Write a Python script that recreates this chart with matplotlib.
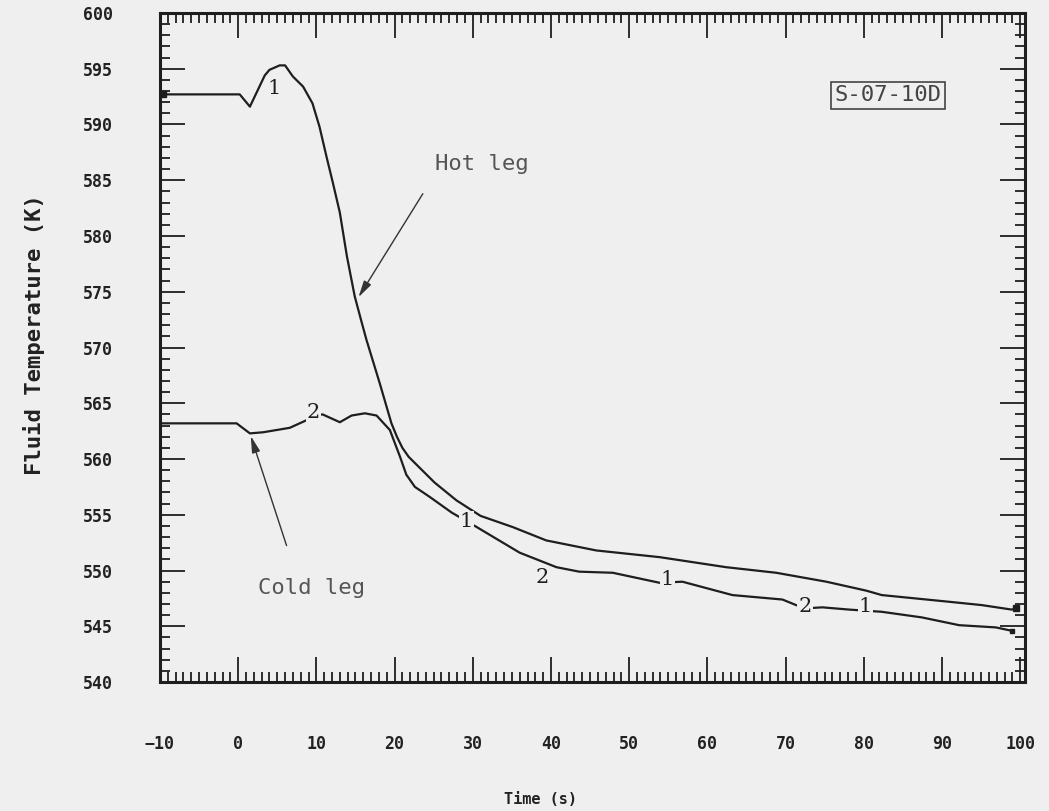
import numpy as np
import matplotlib.pyplot as plt
from matplotlib.ticker import MultipleLocator

plt.rcParams['font.family'] = ['DejaVu Sans Mono']

# hot leg (curve 1)
hot_t = [-10, 0.2, 1.5, 3.4, 4.0, 5.3, 6.0, 7.0, 8.3, 9.5, 10.4, 11.3, 12.1, 13.0,
         13.9, 14.9, 15.7, 16.4, 18.1, 19.6, 20.3, 21.0, 21.8, 22.8, 25.1, 27.9,
         31.0, 35.1, 39.4, 45.8, 53.9, 62.4, 68.8, 75.2, 80.3, 82.3, 90.9, 95.1,
         98.9, 99.5]
hot_T = [592.7, 592.7, 591.6, 594.4, 594.9, 595.3, 595.3, 594.3, 593.4, 591.9,
         589.8, 587.1, 584.8, 582.1, 578.2, 574.6, 572.5, 570.7, 566.8, 563.2,
         562.0, 561.0, 560.2, 559.5, 557.9, 556.3, 554.9, 553.9, 552.7, 551.8,
         551.2, 550.3, 549.8, 549.0, 548.2, 547.8, 547.2, 546.9, 546.5, 546.6]

# cold leg (curve 2)
cold_t = [-10, -0.2, 1.5, 3.2, 6.6, 8.8, 9.5, 10.8, 13.0, 14.5, 16.2, 17.7, 19.4,
          20.7, 21.5, 22.6, 24.5, 27.3, 30.5, 36.0, 40.7, 43.6, 47.9, 53.9, 56.8,
          63.2, 69.6, 72.4, 74.7, 78.1, 82.3, 87.4, 92.2, 96.9, 98.9]
cold_T = [563.2, 563.2, 562.3, 562.4, 562.8, 563.5, 563.9, 564.0, 563.3, 563.9,
          564.1, 563.9, 562.6, 560.2, 558.6, 557.5, 556.6, 555.2, 553.9, 551.6,
          550.3, 549.9, 549.8, 548.9, 549.0, 547.8, 547.4, 546.6, 546.7, 546.5,
          546.3, 545.8, 545.1, 544.9, 544.6]

# curve number labels (text, t, T)
curve_labels = [("1", 4.6, 593.2), ("2", 9.6, 564.2), ("1", 29.2, 554.4),
                ("2", 38.9, 549.4), ("1", 54.9, 549.2), ("2", 72.5, 546.8),
                ("1", 80.2, 546.8)]

bg = '#efefef'
ink = '#1e1e1e'

fig = plt.figure(figsize=(10.49, 8.11), dpi=100, facecolor=bg)
ax = fig.add_axes([0.1525, 0.159, 0.8245, 0.825], facecolor=bg)

ax.plot(hot_t, hot_T, color=ink, lw=1.6)
ax.plot(cold_t, cold_T, color=ink, lw=1.6)
ax.plot(hot_t[-1], hot_T[-1], 's', color=ink, ms=4)
ax.plot(cold_t[-1], cold_T[-1], 's', color=ink, ms=3)
ax.plot(hot_t[0] + 0.4, hot_T[0], 's', color=ink, ms=4)

for s, t, T in curve_labels:
    ax.text(t, T, s, fontsize=15, color=ink, ha='center', va='center',
            family='DejaVu Serif',
            bbox=dict(boxstyle='square,pad=0.05', fc=bg, ec='none'))

# annotations
ax.annotate("", xy=(15.2, 574.3), xytext=(23.8, 584.0),
            arrowprops=dict(arrowstyle='-|>,head_length=1.0,head_width=0.25',
                            color='#333333', lw=1.0))
ax.text(31.2, 586.5, "Hot leg", fontsize=16, color='#555555',
        ha='center', va='center')
ax.annotate("", xy=(1.5, 562.3), xytext=(6.3, 552.0),
            arrowprops=dict(arrowstyle='-|>,head_length=1.0,head_width=0.25',
                            color='#333333', lw=1.0))
ax.text(9.4, 548.4, "Cold leg", fontsize=16, color='#555555',
        ha='center', va='center')

ax.text(83.1, 592.6, "S-07-10D", fontsize=16, color='#444444',
        ha='center', va='center',
        bbox=dict(boxstyle='square,pad=0.15', fc=bg, ec='#444444', lw=1.2))

ax.set_xlim(-10, 100.6)
ax.set_ylim(540, 600)
ax.xaxis.set_major_locator(MultipleLocator(10))
ax.xaxis.set_minor_locator(MultipleLocator(1))
ax.yaxis.set_major_locator(MultipleLocator(5))
ax.yaxis.set_minor_locator(MultipleLocator(1))

ax.tick_params(which='both', direction='in', top=True, right=True,
               color=ink, width=1.3)
ax.tick_params(which='major', length=18, labelsize=12, labelcolor='#222222')
ax.tick_params(which='minor', length=7)
ax.tick_params(axis='x', which='major', pad=38)
ax.tick_params(axis='y', which='major', pad=34)
for lab in ax.get_xticklabels() + ax.get_yticklabels():
    lab.set_fontweight('bold')

for sp in ax.spines.values():
    sp.set_linewidth(2.2)
    sp.set_color(ink)

ax.set_xlabel("Time (s)", fontsize=11, fontweight='bold', color='#222222')
ax.xaxis.set_label_coords(0.44, -0.176)
ax.xaxis.label.set_va('center')
ax.set_ylabel("Fluid Temperature (K)", fontsize=16, fontweight='bold',
              color='#222222')
ax.yaxis.set_label_coords(-0.159, 0.52)
ax.yaxis.label.set_ha('center')
ax.yaxis.label.set_va('center')
ax.yaxis.set_label_coords(-0.159 + 0.013, 0.52)

fig.savefig("out.png", dpi=100, facecolor=bg)
